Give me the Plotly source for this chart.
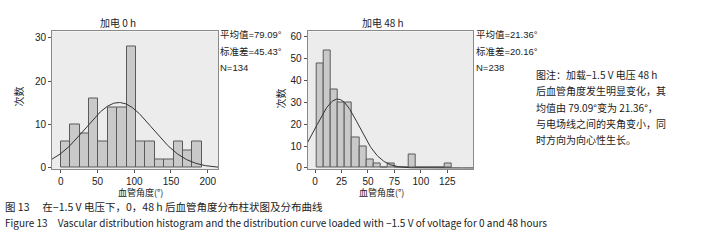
import numpy as np
import plotly.graph_objects as go

W, H = 701, 249

# ---- data ----
titles = ["加电 0 h", "加电 48 h"]
counts_0h = [6, 10, 8, 16, 6, 14, 14, 28, 6, 6, 2, 2, 6, 4, 6]
bin_start_0h = 0.0
bin_width_0h = 12.8
mean_0h, sd_0h, n_0h = 79.09, 45.43, 134

counts_48h = [48, 54, 36, 30, 30, 14, 10, 4, 2, 0, 2, 0, 0, 6, 0, 0, 0, 0, 2]
bin_start_48h = 1.5
bin_width_48h = 6.7
mean_48h, sd_48h, n_48h = 21.36, 20.16, 238

xticks_0h = [0, 50, 100, 150, 200]
yticks_0h = [0, 10, 20, 30]
xticks_48h = [0, 25, 50, 75, 100, 125]
yticks_48h = [0, 10, 20, 30, 40, 50, 60]

stats_0h = ["平均值=79.09°", "标准差=45.43°", "N=134"]
stats_48h = ["平均值=21.36°", "标准差=20.16°", "N=238"]
note_lines = ["图注：加载−1.5 V 电压 48 h", "后血管角度发生明显变化，其",
              "均值由 79.09°变为 21.36°，", "与电场线之间的夹角变小，同", "时方向为向心性生长。"]
caption_cn = "图 13　 在−1.5 V 电压下，0，48 h 后血管角度分布柱状图及分布曲线"
caption_en = "Figure 13　Vascular distribution histogram and the distribution curve loaded with −1.5 V of voltage for 0 and 48 hours"
xlabel = "血管角度(°)"
ylabel = "次数"

CJK = "Noto Sans CJK SC, Liberation Sans, sans-serif"
MIX = "Liberation Sans, Noto Sans CJK SC, sans-serif"
NUM = "Liberation Sans, Arial, sans-serif"

fig = go.Figure()

def add_panel(counts, start, width, mean, sd, n, xr, xaxis, yaxis):
    counts = np.array(counts, dtype=float)
    centers = start + width * (np.arange(len(counts)) + 0.5)
    fig.add_trace(go.Bar(x=centers, y=counts, width=width, xaxis=xaxis, yaxis=yaxis,
                         marker=dict(color="#c9c9c9", line=dict(color="#5a5a5a", width=1)),
                         showlegend=False, hoverinfo="skip"))
    xs = np.linspace(xr[0], xr[1], 300)
    ys = n * width / (sd * np.sqrt(2 * np.pi)) * np.exp(-0.5 * ((xs - mean) / sd) ** 2)
    fig.add_trace(go.Scatter(x=xs, y=ys, mode="lines", xaxis=xaxis, yaxis=yaxis,
                             line=dict(color="#333333", width=1), showlegend=False,
                             hoverinfo="skip", cliponaxis=True))

xr0 = [-12, 214]
xr1 = [-7, 149.6]
add_panel(counts_0h, bin_start_0h, bin_width_0h, mean_0h, sd_0h, n_0h, xr0, "x", "y")
add_panel(counts_48h, bin_start_48h, bin_width_48h, mean_48h, sd_48h, n_48h, xr1, "x2", "y2")

ydom = [1 - 172 / H, 1 - 32 / H]
axstyle = dict(showgrid=False, zeroline=False, showline=True, linecolor="#8a8a8a", linewidth=1,
               mirror=True, ticks="outside", ticklen=3, tickcolor="#555555",
               tickfont=dict(family=NUM, size=10, color="#222222"))

fig.update_layout(
    width=W, height=H, margin=dict(l=0, r=0, t=0, b=0),
    paper_bgcolor="white", plot_bgcolor="#ececec", bargap=0,
    xaxis=dict(domain=[52 / W, 218 / W], range=xr0, tickvals=xticks_0h, anchor="y", **axstyle),
    yaxis=dict(domain=ydom, range=[-0.3, 31.4], tickvals=yticks_0h, anchor="x", **axstyle),
    xaxis2=dict(domain=[307.7 / W, 473.3 / W], range=xr1, tickvals=xticks_48h, anchor="y2", **axstyle),
    yaxis2=dict(domain=ydom, range=[-0.6, 62.5], tickvals=yticks_48h, anchor="x2", **axstyle),
)

def ann(text, px, py, size=10, xanchor="center", font=CJK, angle=0, color="#222222"):
    fig.add_annotation(text=text, x=px / W, y=1 - py / H, xref="paper", yref="paper",
                       showarrow=False, xanchor=xanchor, yanchor="middle", textangle=angle,
                       borderpad=0, font=dict(family=font, size=size, color=color))

ann(titles[0], 118, 23)
ann(titles[1], 383, 23)
ann(xlabel, 140, 196, size=9)
ann(xlabel, 382, 196, size=9)
ann(ylabel, 18, 98, angle=-90)
ann(ylabel, 280, 100, angle=-90)

for i, (a, b) in enumerate(zip(stats_0h, stats_48h)):
    py = [35, 52, 68.5][i]
    ann(a, 219, py, size=9.5, xanchor="left", font=MIX)
    ann(b, 475, py, size=9.5, xanchor="left", font=MIX)

for i, line in enumerate(note_lines):
    ann(line, 535, 76 + i * 16.4, size=10, xanchor="left")

ann(caption_cn, 4, 210, size=10.5, xanchor="left")
ann(caption_en, 4, 226, size=10, xanchor="left", font=CJK)

fig.write_html("out.html", post_script="document.body.style.margin='0px';",
               config={"displayModeBar": False})
